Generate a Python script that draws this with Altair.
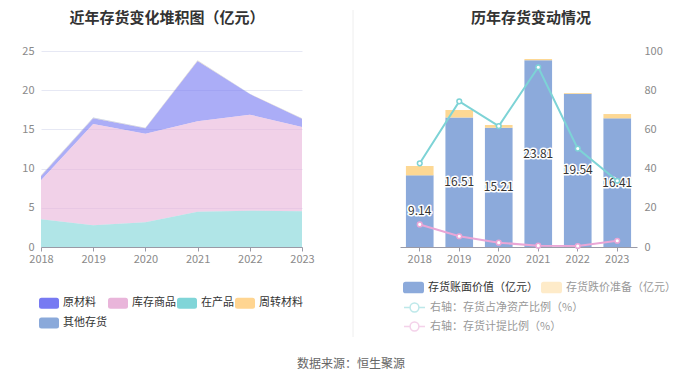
import altair as alt
import pandas as pd

years = ["2018", "2019", "2020", "2021", "2022", "2023"]

# left chart: stacked inventory composition (亿元)
left_series = ["原材料", "库存商品", "在产品", "周转材料", "其他存货"]
left_colors = ["#777af2", "#e9b5da", "#80d5d8", "#ffd591", "#8aa9da"]
raw = [0.56, 0.72, 0.68, 7.69, 2.63, 1.06]
goods = [4.97, 12.93, 11.31, 11.53, 12.25, 10.76]
wip = [3.53, 2.76, 3.15, 4.50, 4.63, 4.55]
turnover = [0.05, 0.06, 0.05, 0.06, 0.02, 0.03]
other = [0.03, 0.04, 0.02, 0.03, 0.01, 0.01]
stack_order = {"在产品": 0, "库存商品": 1, "原材料": 2, "周转材料": 3, "其他存货": 4}

# right chart
bar_series = ["存货账面价值（亿元）", "存货跌价准备（亿元）"]
bar_colors = ["#8caadb", "#fdd894"]
book = [9.14, 16.51, 15.21, 23.81, 19.54, 16.41]
reserve = [1.19, 0.96, 0.35, 0.17, 0.10, 0.55]
line_series = ["右轴：存货占净资产比例（%）", "右轴：存货计提比例（%）"]
line_colors = ["#7dd3d6", "#eaa6d6"]
ratio_net = [42.7, 74.3, 61.7, 91.7, 50.2, 33.8]
ratio_prov = [11.5, 5.5, 2.2, 0.7, 0.5, 3.2]

titles = ["近年存货变化堆积图（亿元）", "历年存货变动情况"]
source_text = "数据来源：恒生聚源"
FONT = "Noto Sans CJK SC"

rows = []
for name, vals in zip(left_series, [raw, goods, wip, turnover, other]):
    for y, v in zip(years, vals):
        rows.append({"year": y, "series": name, "value": v, "ord": stack_order[name]})
left_df = pd.DataFrame(rows)

brows = []
for i, (name, vals) in enumerate(zip(bar_series, [book, reserve])):
    for y, v in zip(years, vals):
        brows.append({"year": y, "series": name, "value": v, "ord": i})
bar_df = pd.DataFrame(brows)

label_df = pd.DataFrame({"year": years, "book": book})

lrows = []
for name, vals in zip(line_series, [ratio_net, ratio_prov]):
    for y, v in zip(years, vals):
        lrows.append({"year": y, "series": name, "value": v})
line_df = pd.DataFrame(lrows)

RRECT = ("M-0.75,-0.55H0.75Q1,-0.55,1,-0.3V0.3Q1,0.55,0.75,0.55H-0.75"
         "Q-1,0.55,-1,0.3V-0.3Q-1,-0.55,-0.75,-0.55Z")
LINESYM = ("M-1,0H-0.42M0.42,0H1M-0.42,0A0.42,0.42,0,1,0,0.42,0"
           "A0.42,0.42,0,1,0,-0.42,0Z")

x_axis = dict(labelAngle=0, title=None, domainColor="#9a9aa6", tickColor="#9a9aa6",
              tickSize=4, labelPadding=2, labelColor="#8a8a8a", labelFontSize=11,
              labelFont=FONT, grid=False)
y_axis = dict(title=None, domain=False, ticks=False, labelPadding=7, grid=True,
              gridColor="#e6e8f4", labelColor="#8a8a8a", labelFontSize=11, labelFont=FONT)

W_L, W_R, H = 261, 237, 196


def title_mark(text, xpos):
    return alt.Chart(pd.DataFrame({"t": [text]})).mark_text(
        font=FONT, fontSize=15, fontWeight="bold", color="#333333", baseline="middle").encode(
        x=alt.value(xpos), y=alt.value(-33), text="t:N")


area = alt.Chart(left_df).mark_area(fillOpacity=0.62).encode(
    x=alt.X("year:O", scale=alt.Scale(type="point", padding=0), axis=alt.Axis(**x_axis)),
    y=alt.Y("value:Q", stack="zero", scale=alt.Scale(domain=[0, 25]),
            axis=alt.Axis(values=[0, 5, 10, 15, 20, 25], **y_axis)),
    fill=alt.Fill("series:N", scale=alt.Scale(domain=left_series, range=left_colors),
                  legend=alt.Legend(orient="none", legendX=-2, legendY=242, direction="horizontal",
                                    columns=4, gridAlign="each", columnPadding=1, rowPadding=4,
                                    symbolType=RRECT, symbolSize=400, symbolStrokeWidth=0,
                                    symbolOpacity=1, labelOffset=4, labelFontSize=11,
                                    labelFont=FONT, labelColor="#333333", title=None, padding=0)),
    order=alt.Order("ord:Q"),
)

divider = alt.Chart(pd.DataFrame({"a": [0]})).mark_rule(color="#eeeeee", strokeWidth=1).encode(
    x=alt.value(312), y=alt.value(-41), y2=alt.value(286))
source = alt.Chart(pd.DataFrame({"t": [source_text]})).mark_text(
    font=FONT, fontSize=12, color="#666666").encode(
    x=alt.value(310), y=alt.value(313), text="t:N")

left = alt.layer(area, divider, source, title_mark(titles[0], 126)).properties(width=W_L, height=H)

xr = alt.X("year:O", scale=alt.Scale(paddingInner=0.3, paddingOuter=0.15), axis=alt.Axis(**x_axis))

bars = alt.Chart(bar_df).mark_bar().encode(
    x=xr,
    y=alt.Y("value:Q", stack="zero", scale=alt.Scale(domain=[0, 25]),
            axis=alt.Axis(values=[0, 5, 10, 15, 20, 25], **y_axis)),
    fill=alt.Fill("series:N", scale=alt.Scale(domain=bar_series, range=bar_colors),
                  legend=alt.Legend(orient="none", legendX=3, legendY=226, direction="horizontal",
                                    columns=2, gridAlign="none", columnPadding=3, rowPadding=0,
                                    symbolType=RRECT, symbolSize=441, symbolStrokeWidth=0,
                                    symbolOpacity={"expr": "datum.value == '存货跌价准备（亿元）' ? 0.5 : 1"},
                                    labelOffset=4, labelFontSize=11, labelFont=FONT,
                                    labelColor={"expr": "datum.value == '存货账面价值（亿元）' ? '#333333' : '#999999'"},
                                    title=None, padding=0)),
    order=alt.Order("ord:Q"),
)

lab_base = alt.Chart(label_df).transform_calculate(mid="datum.book / 2").encode(
    x=xr, y=alt.Y("mid:Q", scale=alt.Scale(domain=[0, 25]), axis=None),
    text=alt.Text("book:Q", format=".2f"))
halo = lab_base.mark_text(font=FONT, fontSize=12, stroke="white", strokeWidth=3,
                          strokeJoin="round", fill="white")
lab = lab_base.mark_text(font=FONT, fontSize=12, fill="#333333")

lines = alt.Chart(line_df).mark_line(
    strokeWidth=2,
    point=alt.OverlayMarkDef(filled=False, fill="white", size=22, strokeWidth=1.5)).encode(
    x=xr,
    y=alt.Y("value:Q", scale=alt.Scale(domain=[0, 100]),
            axis=alt.Axis(orient="right", values=[0, 20, 40, 60, 80, 100], title=None,
                          domain=False, ticks=False, grid=False, labelPadding=7,
                          labelColor="#8a8a8a", labelFontSize=11, labelFont=FONT)),
    stroke=alt.Stroke("series:N", scale=alt.Scale(domain=line_series, range=line_colors),
                      legend=alt.Legend(orient="none", legendX=3, legendY=245, direction="vertical",
                                        columns=1, rowPadding=0, symbolType=LINESYM,
                                        symbolSize=441, symbolStrokeWidth=1.5, symbolOpacity=0.5,
                                        labelOffset=4, labelFontSize=11, labelFont=FONT,
                                        labelColor="#999999", title=None, padding=0)),
)

right = alt.layer(alt.layer(bars, halo, lab, title_mark(titles[1], 131)), lines).resolve_scale(
    y="independent").properties(width=W_R, height=H)

chart = alt.hconcat(left, right, spacing=98, bounds="flush").resolve_scale(
    fill="independent", stroke="independent").resolve_legend(
    fill="independent", stroke="independent").properties(
    padding={"left": 13, "top": 1, "right": 5, "bottom": 0}).configure_view(stroke=None)

chart.save("out.html", embed_options={"renderer": "svg", "actions": False})
